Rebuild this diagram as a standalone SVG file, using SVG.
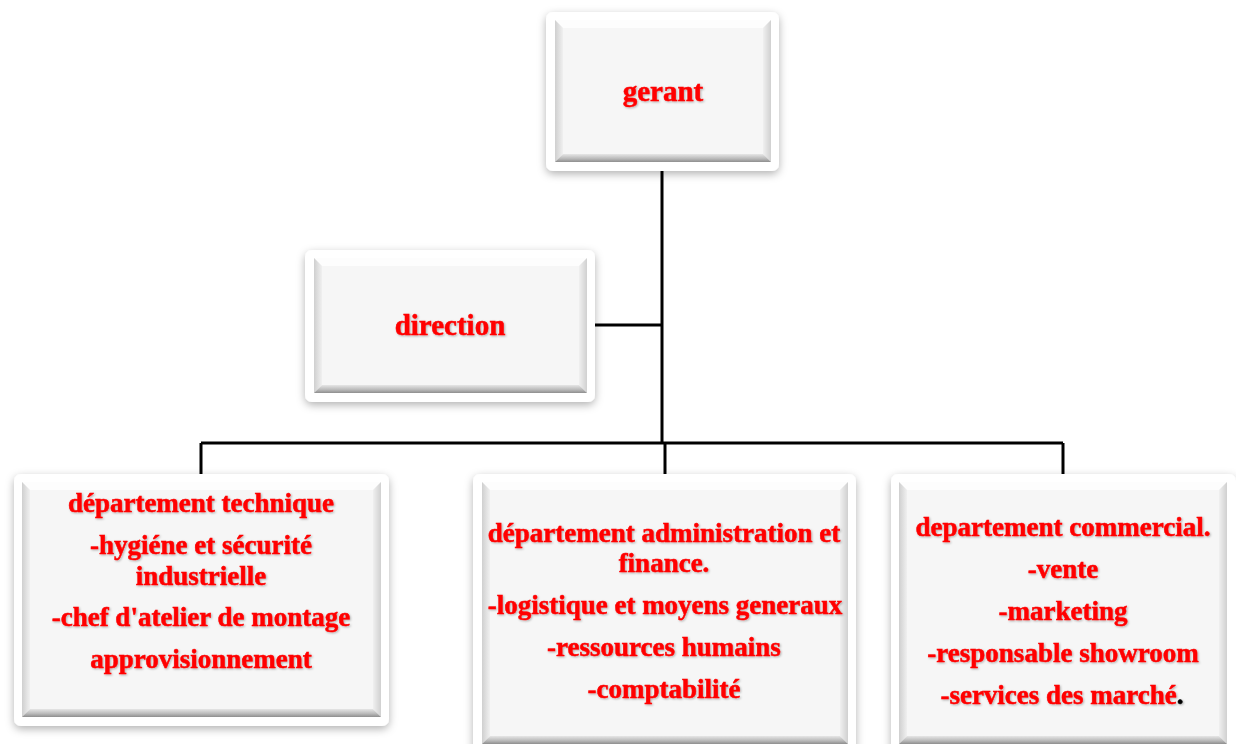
<svg xmlns="http://www.w3.org/2000/svg" width="1236" height="744" viewBox="0 0 1236 744">
<defs>
<filter id="sh" x="-10%" y="-10%" width="120%" height="130%">
<feDropShadow dx="0" dy="3" stdDeviation="4" flood-color="#000" flood-opacity="0.3"/>
</filter>
<filter id="ts" x="-5%" y="-20%" width="110%" height="140%">
<feDropShadow dx="1" dy="1" stdDeviation="0.8" flood-color="#000" flood-opacity="0.3"/>
</filter>
<linearGradient id="gb" x1="0" y1="0" x2="0" y2="1">
<stop offset="0" stop-color="#e6e6e6"/>
<stop offset="0.6" stop-color="#b8b8b8"/>
<stop offset="1" stop-color="#8e8e8e"/>
</linearGradient>
<linearGradient id="gl" x1="0" y1="0" x2="1" y2="0">
<stop offset="0" stop-color="#cfcfcf"/>
<stop offset="1" stop-color="#f0f0f0"/>
</linearGradient>
<linearGradient id="gr" x1="0" y1="0" x2="1" y2="0">
<stop offset="0" stop-color="#f0f0f0"/>
<stop offset="1" stop-color="#d0d0d0"/>
</linearGradient>
</defs>
<style>
.outer{fill:#ffffff;filter:url(#sh)}
.panel{fill:#f6f6f6}
.bt{fill:#fdfdfd}
.bl{fill:url(#gl)}
.br{fill:url(#gr)}
.bb{fill:url(#gb)}
.t{font-family:"Liberation Serif","Times New Roman",serif;font-weight:bold;fill:#ff0000;stroke:#ff0000;stroke-width:0.5;text-anchor:middle;filter:url(#ts)}
.f27{font-size:27px}
.f29{font-size:29px}
.conn{stroke:#000;stroke-width:3;fill:none}
</style>
<rect width="1236" height="744" fill="#ffffff"/>
<g id="connectors">
<path class="conn" d="M662 171 V443"/>
<path class="conn" d="M595 325 H662"/>
<path class="conn" d="M201 443 H1063"/>
<path class="conn" d="M201 443 V474"/>
<path class="conn" d="M665 443 V474"/>
<path class="conn" d="M1063 443 V474"/>
</g>
<g id="gerant">
<rect class="outer" x="546" y="12" width="233" height="159" rx="7"/>
<rect class="panel" x="555" y="20" width="216" height="142"/>
<polygon class="bt" points="555,20 771,20 763,28 563,28"/>
<polygon class="bl" points="555,20 563,28 563,154 555,162"/>
<polygon class="br" points="771,20 771,162 763,154 763,28"/>
<polygon class="bb" points="555,162 771,162 763,154 563,154"/>
<text class="t f29" x="663" y="101">gerant</text>
</g>
<g id="direction">
<rect class="outer" x="305" y="250" width="290" height="152" rx="7"/>
<rect class="panel" x="314" y="258" width="273" height="135"/>
<polygon class="bt" points="314,258 587,258 579,266 322,266"/>
<polygon class="bl" points="314,258 322,266 322,385 314,393"/>
<polygon class="br" points="587,258 587,393 579,385 579,266"/>
<polygon class="bb" points="314,393 587,393 579,385 322,385"/>
<text class="t f29" x="450" y="335">direction</text>
</g>
<g id="dept-technique">
<rect class="outer" x="14" y="474" width="375" height="252" rx="7"/>
<rect class="panel" x="22" y="482" width="359" height="235"/>
<polygon class="bt" points="22,482 381,482 373,490 30,490"/>
<polygon class="bl" points="22,482 30,490 30,709 22,717"/>
<polygon class="br" points="381,482 381,717 373,709 373,490"/>
<polygon class="bb" points="22,717 381,717 373,709 30,709"/>
<text class="t f27" x="201" y="512">département technique</text>
<text class="t f27" x="201" y="554">-hygiéne et sécurité</text>
<text class="t f27" x="201" y="585">industrielle</text>
<text class="t f27" x="201" y="626">-chef d'atelier de montage</text>
<text class="t f27" x="201" y="668">approvisionnement</text>
</g>
<g id="dept-administration">
<rect class="outer" x="473" y="474" width="383" height="280" rx="7"/>
<rect class="panel" x="482" y="482" width="366" height="262"/>
<polygon class="bt" points="482,482 848,482 840,490 490,490"/>
<polygon class="bl" points="482,482 490,490 490,736 482,744"/>
<polygon class="br" points="848,482 848,744 840,736 840,490"/>
<polygon class="bb" points="482,744 848,744 840,736 490,736"/>
<text class="t f27" x="664" y="542">département administration et</text>
<text class="t f27" x="664" y="572">finance.</text>
<text class="t f27" x="665" y="614">-logistique et moyens generaux</text>
<text class="t f27" x="664" y="656">-ressources humains</text>
<text class="t f27" x="664" y="698">-comptabilité</text>
</g>
<g id="dept-commercial">
<rect class="outer" x="891" y="474" width="345" height="280" rx="7"/>
<rect class="panel" x="899" y="482" width="328" height="262"/>
<polygon class="bt" points="899,482 1227,482 1219,490 907,490"/>
<polygon class="bl" points="899,482 907,490 907,736 899,744"/>
<polygon class="br" points="1227,482 1227,744 1219,736 1219,490"/>
<polygon class="bb" points="899,744 1227,744 1219,736 907,736"/>
<text class="t f27" x="1063" y="536">departement commercial.</text>
<text class="t f27" x="1063" y="578">-vente</text>
<text class="t f27" x="1063" y="620">-marketing</text>
<text class="t f27" x="1063" y="662">-responsable showroom</text>
<text class="t f27" x="1062" y="704">-services des marché<tspan fill="#000000" stroke="#000000">.</tspan></text>
</g>
</svg>
